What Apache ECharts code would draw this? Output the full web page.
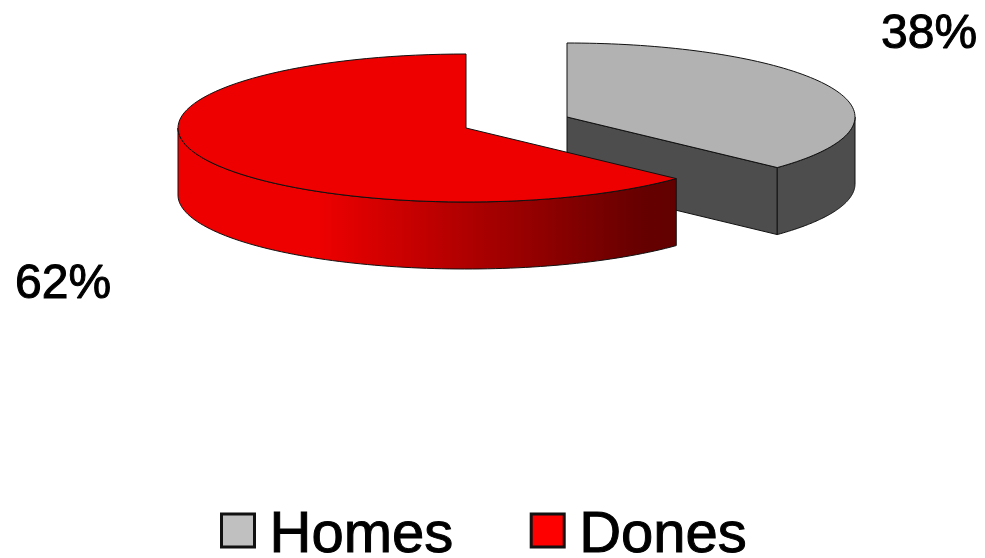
<!DOCTYPE html>
<html><head><meta charset="utf-8">
<style>html,body{margin:0;padding:0;background:#fff}#c{width:985px;height:558px}</style>
<script src="https://cdn.jsdelivr.net/npm/echarts@6/dist/echarts.min.js"></script>
</head><body><div id="c"></div>
<script>
const categories = ['Homes', 'Dones'];
const values = [38, 62];
const labels = ['38%', '62%'];

const total = values.reduce((a, b) => a + b, 0);
const RX = 288, RY = 74, DEPTH = 67, WARP = 3.7 * Math.PI / 180;
const FONT = '"Liberation Sans", Arial, sans-serif';

function ang(share) {
  const t = share / total * Math.PI * 2;
  return t + WARP * Math.sin(2 * t);
}
function arc(cx, cy, a0, a1) {
  const pts = [], n = 90;
  for (let i = 0; i <= n; i++) {
    const a = a0 + (a1 - a0) * i / n;
    pts.push([cx + RX * Math.sin(a), cy - RY * Math.cos(a)]);
  }
  return pts;
}
function down(pts) { return pts.map(p => [p[0], p[1] + DEPTH]); }
function poly(points, fill, z2) {
  return { type: 'polygon', z2: z2, shape: { points: points },
    style: { fill: fill, stroke: '#111', lineWidth: 1, lineJoin: 'round' } };
}
function text(s, x, y) {
  return { type: 'text', z2: 9, style: { text: s, x: x, y: y, fill: '#000',
    stroke: '#000', lineWidth: 1,
    font: '48px ' + FONT, textAlign: 'left', textVerticalAlign: 'middle' } };
}

function renderHomes(params) {
  const cx = 567, cy = 117;
  const end = ang(values[0]);
  const rim = arc(cx, cy, 0, end);
  const outer = arc(cx, cy, Math.PI / 2, end);
  const e = rim[rim.length - 1];
  return { type: 'group', children: [
    poly([[cx, cy], e, [e[0], e[1] + DEPTH], [cx, cy + DEPTH]], '#4d4d4d', 1),
    poly(outer.concat(down(outer).reverse()), '#4d4d4d', 2),
    poly([[cx, cy]].concat(rim), '#b2b2b2', 3),
    text(labels[0], 881, 35)
  ]};
}
function renderDones(params) {
  const cx = 466, cy = 128;
  const start = ang(values[0]);
  const rim = arc(cx, cy, start, Math.PI * 2);
  const front = arc(cx, cy, start, Math.PI * 1.5);
  const side = poly(front.concat(down(front).reverse()), '#ee0000', 1);
  side.style.fill = new echarts.graphic.LinearGradient(0, 0, 1, 0, [
    { offset: 0, color: '#ee0000' }, { offset: 0.28, color: '#ee0000' },
    { offset: 0.93, color: '#660000' }, { offset: 1, color: '#620000' }
  ]);
  return { type: 'group', children: [
    side,
    poly([[cx, cy]].concat(rim), '#ee0000', 2),
    text(labels[1], 15, 285)
  ]};
}

const chart = echarts.init(document.getElementById('c'), null, { renderer: 'canvas' });
chart.setOption({
  animation: false,
  backgroundColor: '#fff',
  legend: {
    data: categories, left: 215, top: 501, itemWidth: 33, itemHeight: 33, itemGap: 76,
    icon: 'rect',
    itemStyle: { borderColor: '#111', borderWidth: 3 },
    formatter: '{t|{name}}',
    textStyle: { fontFamily: FONT, fontSize: 58, color: '#000',
      rich: { t: { fontFamily: FONT, fontSize: 58, color: '#000', padding: [10, 0, 0, 10],
        textBorderColor: '#000', textBorderWidth: 1 } } }
  },
  series: [
    { type: 'custom', name: categories[0], coordinateSystem: 'none', silent: true,
      itemStyle: { color: '#c0c0c0' }, data: [values[0]], renderItem: renderHomes },
    { type: 'custom', name: categories[1], coordinateSystem: 'none', silent: true, z: 3,
      itemStyle: { color: '#ff0000' }, data: [values[1]], renderItem: renderDones }
  ]
});
</script></body></html>
